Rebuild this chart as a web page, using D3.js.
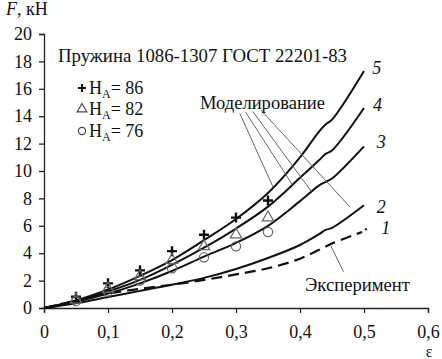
<!DOCTYPE html>
<html lang="ru">
<head>
<meta charset="UTF-8">
<script src="https://d3js.org/d3.v7.min.js"></script>
<style>
  body { margin: 0; background: #fff; }
  svg text { font-family: "Liberation Serif", "Times New Roman", serif; fill: #111; }
</style>
</head>
<body>
<div id="chart"></div>
<script>
// data
const epsGrid = [0, 0.05, 0.1, 0.15, 0.2, 0.25, 0.3, 0.35, 0.4, 0.43, 0.44, 0.45, 0.5];
const curve5 = [0, 0.55, 1.35, 2.35, 3.5, 4.95, 6.5, 8.4, 11.0, 12.9, 13.4, 13.75, 17.3];
const curve4 = [0, 0.5, 1.2, 2.05, 3.15, 4.4, 5.8, 7.4, 9.5, 10.8, 11.25, 11.5, 14.6];
const curve3 = [0, 0.45, 1.05, 1.8, 2.7, 3.75, 4.75, 6.0, 7.8, 8.95, 9.2, 9.45, 11.8];
const curve2 = [0, 0.35, 0.8, 1.25, 1.7, 2.2, 2.85, 3.65, 4.6, 5.4, 5.7, 5.85, 7.5];
const expEps = [0, 0.05, 0.1, 0.15, 0.2, 0.25, 0.3, 0.35, 0.4, 0.45, 0.497];
const expF   = [0, 0.55, 1.05, 1.4, 1.7, 2.05, 2.45, 2.9, 3.6, 4.7, 5.55];
const expDot = [0.503, 5.75];

const markEps = [0.05, 0.1, 0.15, 0.2, 0.25, 0.3, 0.35];
const plus86 = [0.82, 1.8, 2.75, 4.15, 5.35, 6.6, 7.85];
const tri82  = [0.6, 1.4, 2.3, 3.5, 4.5, 5.35, 6.6];
const circ76 = [0.5, 1.2, 2.0, 2.9, 3.7, 4.5, 5.55];

const curveNames = ["5", "4", "3", "2", "1"];
const xTicks = [0, 0.1, 0.2, 0.3, 0.4, 0.5, 0.6];
const xTickLabels = ["0", "0,1", "0,2", "0,3", "0,4", "0,5", "0,6"];
const yTicks = [0, 2, 4, 6, 8, 10, 12, 14, 16, 18, 20];
const legendLabels = ["86", "82", "76"];

// leader lines "Моделирование": start in data units, end on curves 5,4,3,2
const leadStart = [[0.306, 14.2], [0.315, 14.3], [0.326, 14.35], [0.339, 14.45]];
const leadEndEps = [0.358, 0.388, 0.418, 0.478];

const W = 442, H = 359;
const svg = d3.select("#chart").append("svg").attr("width", W).attr("height", H);

const x = d3.scaleLinear().domain([0, 0.6]).range([44, 428]);
const y = d3.scaleLinear().domain([0, 20]).range([308, 34]);

// axes
const yAxis = svg.append("g").attr("transform", `translate(${x(0)},0)`)
  .call(d3.axisLeft(y).tickValues(yTicks).tickSize(5).tickPadding(7));
const xAxis = svg.append("g").attr("transform", `translate(0,${y(0)})`)
  .call(d3.axisBottom(x).tickValues(xTicks).tickSize(5).tickPadding(12)
    .tickFormat((d, i) => xTickLabels[i]));
[xAxis, yAxis].forEach(g => {
  g.attr("font-family", null).attr("font-size", 18);
  g.select(".domain").attr("stroke", "#222").attr("stroke-width", 1.3);
  g.selectAll(".tick line").attr("stroke", "#222").attr("stroke-width", 1.3);
  g.selectAll(".tick text").attr("fill", "#111");
});

// axis titles
const yt = svg.append("text").attr("x", 6).attr("y", 15).attr("font-size", 18);
yt.append("tspan").attr("font-style", "italic").text("F");
yt.append("tspan").text(", кН");
svg.append("text").attr("x", 429).attr("y", 357).attr("text-anchor", "middle")
  .attr("font-size", 16).text("ε");

// curves
const line = d3.line().x(d => x(d[0])).y(d => y(d[1])).curve(d3.curveCatmullRom.alpha(0.5));
[curve5, curve4, curve3, curve2].forEach(c => {
  svg.append("path").datum(epsGrid.map((e, i) => [e, c[i]]))
    .attr("d", line).attr("fill", "none").attr("stroke", "#111").attr("stroke-width", 2);
});
svg.append("path").datum(expEps.map((e, i) => [e, expF[i]]))
  .attr("d", line).attr("fill", "none").attr("stroke", "#111").attr("stroke-width", 2.2)
  .attr("stroke-dasharray", "11,6");
svg.append("circle").attr("cx", x(expDot[0])).attr("cy", y(expDot[1])).attr("r", 1.2).attr("fill", "#333");

// curve numbers
const lastOf = c => c[c.length - 1];
const labelPos = [[lastOf(curve5), 0.513, 3], [lastOf(curve4), 0.514, 3], [lastOf(curve3), 0.52, 2], [lastOf(curve2), 0.52, 8], [lastOf(expF), 0.527, 2]];
labelPos.forEach((p, i) => {
  svg.append("text").attr("x", x(p[1])).attr("y", y(p[0]) + p[2])
    .attr("font-size", 18).attr("font-style", "italic").text(curveNames[i]);
});

// leader lines
const leadCurves = [curve5, curve4, curve3, curve2];
const interp = (c, e) => {
  const i = d3.bisectRight(epsGrid, e) - 1;
  const t = (e - epsGrid[i]) / (epsGrid[i + 1] - epsGrid[i]);
  return c[i] + t * (c[i + 1] - c[i]);
};
leadStart.forEach((s, i) => {
  const e = leadEndEps[i];
  svg.append("line")
    .attr("x1", x(s[0])).attr("y1", y(s[1]))
    .attr("x2", x(e)).attr("y2", y(interp(leadCurves[i], e) + (i === 3 ? 0.6 : 0)))
    .attr("stroke", "#666").attr("stroke-width", 1);
});
svg.append("text").attr("x", 200).attr("y", 109).attr("font-size", 18)
  .attr("textLength", 125).attr("lengthAdjust", "spacingAndGlyphs").text("Моделирование");

// experiment leader
svg.append("line").attr("x1", x(0.448)).attr("y1", y(4.55)).attr("x2", x(0.468)).attr("y2", y(2.65))
  .attr("stroke", "#666").attr("stroke-width", 1);
svg.append("text").attr("x", 305).attr("y", 291).attr("font-size", 18)
  .attr("textLength", 105).attr("lengthAdjust", "spacingAndGlyphs").text("Эксперимент");

// title
svg.append("text").attr("x", 58).attr("y", 62).attr("font-size", 18)
  .attr("textLength", 289).attr("lengthAdjust", "spacingAndGlyphs").text("Пружина 1086-1307 ГОСТ 22201-83");

// markers
const plusPath = "M-5,0H5M0,-5V5";
markEps.forEach((e, i) => {
  svg.append("path").attr("d", plusPath).attr("transform", `translate(${x(e)},${y(plus86[i])})`)
    .attr("stroke", "#111").attr("stroke-width", 2.4);
  svg.append("path").attr("d", d3.symbol(d3.symbolTriangle, 55)())
    .attr("transform", `translate(${x(e)},${y(tri82[i])})`)
    .attr("fill", "none").attr("stroke", "#666").attr("stroke-width", 1.2);
  svg.append("circle").attr("cx", x(e)).attr("cy", y(circ76[i])).attr("r", 4.6)
    .attr("fill", "none").attr("stroke", "#666").attr("stroke-width", 1.2);
});

// legend
const legY = [88, 109, 131];
legY.forEach((ly, i) => {
  const g = svg.append("g").attr("transform", `translate(82,${ly})`);
  if (i === 0) g.append("path").attr("d", "M-4,0H4M0,-4V4").attr("stroke", "#111").attr("stroke-width", 2.2);
  if (i === 1) g.append("path").attr("d", d3.symbol(d3.symbolTriangle, 40)()).attr("fill", "none").attr("stroke", "#444").attr("stroke-width", 1.2);
  if (i === 2) g.append("circle").attr("r", 3.6).attr("fill", "none").attr("stroke", "#444").attr("stroke-width", 1.2);
  const t = g.append("text").attr("x", 7).attr("y", 6).attr("font-size", 18);
  t.append("tspan").text("H");
  t.append("tspan").attr("dy", 4).attr("font-size", 12).text("A");
  t.append("tspan").attr("dy", -4).text("= " + legendLabels[i]);
});
</script>
</body>
</html>
